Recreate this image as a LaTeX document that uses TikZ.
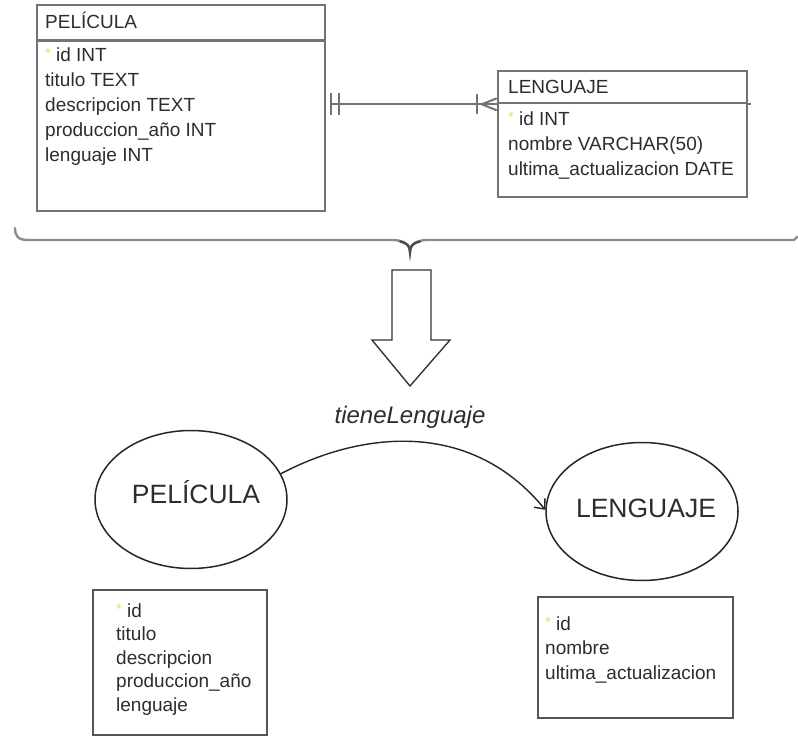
\documentclass[tikz,border=0pt]{standalone}
\usepackage{fontspec}
\setmainfont{Liberation Sans}
\usetikzlibrary{shapes.geometric,calc,arrows.meta}

\definecolor{ink}{RGB}{45,45,45}
\definecolor{boxgray}{RGB}{115,115,115}
\definecolor{framegray}{RGB}{85,85,85}
\definecolor{bracegray}{RGB}{140,140,140}
\definecolor{keyyellow}{RGB}{226,226,95}

% primary-key marker in front of an attribute
\newcommand\keystar{\textcolor{keyyellow}{\raisebox{3pt}{\fontsize{15}{15}\selectfont *}}\hspace{5pt}}

\begin{document}
\begin{tikzpicture}[x=1pt,y=-1pt,
  tbl/.style={draw=boxgray, line width=2.6pt, inner sep=0pt},
  attrbox/.style={draw=framegray, line width=2.2pt, inner sep=0pt},
  row/.style={anchor=base west, inner sep=0pt, text=ink, font=\fontsize{19}{23}\selectfont},
  relline/.style={draw=boxgray, line width=2pt},
  entity/.style={ellipse, draw=black!85, line width=1.5pt, inner sep=0pt,
                 minimum width=192pt, minimum height=138pt},
  entname/.style={inner sep=0pt, text=ink, font=\fontsize{26.5}{30}\selectfont},
  brace/.style={draw=bracegray, line width=2.4pt, line cap=round},
  blockarrow/.style={draw=black!80, line width=1.4pt, line join=miter},
  flow/.style={draw=black!85, line width=1.4pt, -{Straight Barb[length=8pt,width=14pt,line width=1.4pt]}}
]
\fill[white] (0,0) rectangle (798,738);
\useasboundingbox (0,0) rectangle (798,738);

% ---------- relational tables ----------
\node[tbl, minimum width=288pt, minimum height=35pt] (pelhead) at (181,22.5) {};
\node[tbl, minimum width=288pt, minimum height=170pt] (pelbody) at (181,126) {};
\node[row] (pelname) at (45,29) {PELÍCULA};
\foreach \t [count=\i from 0] in {{\keystar id INT},titulo TEXT,descripcion TEXT,produccion\_año INT,lenguaje INT}
  \node[row] (pelrow\i) at (45,62+24.8*\i) {\t};

\node[tbl, minimum width=249pt, minimum height=32pt] (lenhead) at (622.5,87) {};
\node[tbl, minimum width=249pt, minimum height=94pt] (lenbody) at (622.5,150) {};
\node[row] (lenname) at (508,94) {LENGUAJE};
\foreach \t [count=\i from 0] in {{\keystar id INT},nombre VARCHAR(50),ultima\_actualizacion DATE}
  \node[row] (lenrow\i) at (508,126+24.8*\i) {\t};

% one-to-many relationship
\coordinate (relA) at ($(pelbody.east |- lenhead.south)+(5,0)$);
\draw[relline] (relA) -- (lenhead.south west);
\draw[relline] (lenhead.south east) -- ++(3,0);
\draw[relline] ($(relA)+(0,-11)$) -- ++(0,22);
\draw[relline] ($(relA)+(8,-11)$) -- ++(0,22);
\draw[relline] ($(lenhead.south west)+(-20,-10)$) -- ++(0,20);
\draw[relline] ($(lenhead.south west)+(0,-6)$) -- ($(lenhead.south west)+(-15,0)$) -- ($(lenhead.south west)+(0,6)$);

% ---------- brace and transformation arrow ----------
\draw[brace] (15,228) .. controls (15,236) and (18,240) .. (28,240) -- (392,240)
  .. controls (403,240) and (410,244) .. (410,252)
  .. controls (410,244) and (417,240) .. (428,240) -- (794,240) -- (797,237);
\draw[draw=black!70, line width=2.4pt, line cap=round] (400,241.5) .. controls (407,243) and (410,246) .. (410,252)
  .. controls (410,246) and (413,243) .. (420,241.5);

\draw[blockarrow] (392,270) -- (431,270) -- (431,340) -- (450,340) -- (410,386)
  -- (372,340) -- (392,340) -- cycle;

% ---------- graph model ----------
\node[entity] (pe) at (191,499.5) {};
\node[entname] (pename) at ($(pe)+(5,-7)$) {PELÍCULA};
\node[entity] (le) at (642,511.5) {};
\node[entname] (lename) at ($(le)+(4,-3.5)$) {LENGUAJE};

\draw[flow] (pe.16) .. controls (360,432) and (470,418) .. (le.179);
\node[inner sep=0pt, text=ink, font=\fontsize{24}{28}\selectfont\itshape] (rel) at (410,417) {tieneLenguaje};

% ---------- property lists ----------
\node[attrbox, minimum width=174pt, minimum height=145pt] (pelprops) at (180,662.5) {};
\foreach \t [count=\i from 0] in {{\keystar id},titulo,descripcion,produccion\_año,lenguaje}
  \node[row] (pelprop\i) at (116,617+23.6*\i) {\t};

\node[attrbox, minimum width=195pt, minimum height=121pt] (lenprops) at (635.5,657.5) {};
\foreach \t [count=\i from 0] in {{\keystar id},nombre,ultima\_actualizacion}
  \node[row] (lenprop\i) at (545,630+24.5*\i) {\t};

\end{tikzpicture}
\end{document}
